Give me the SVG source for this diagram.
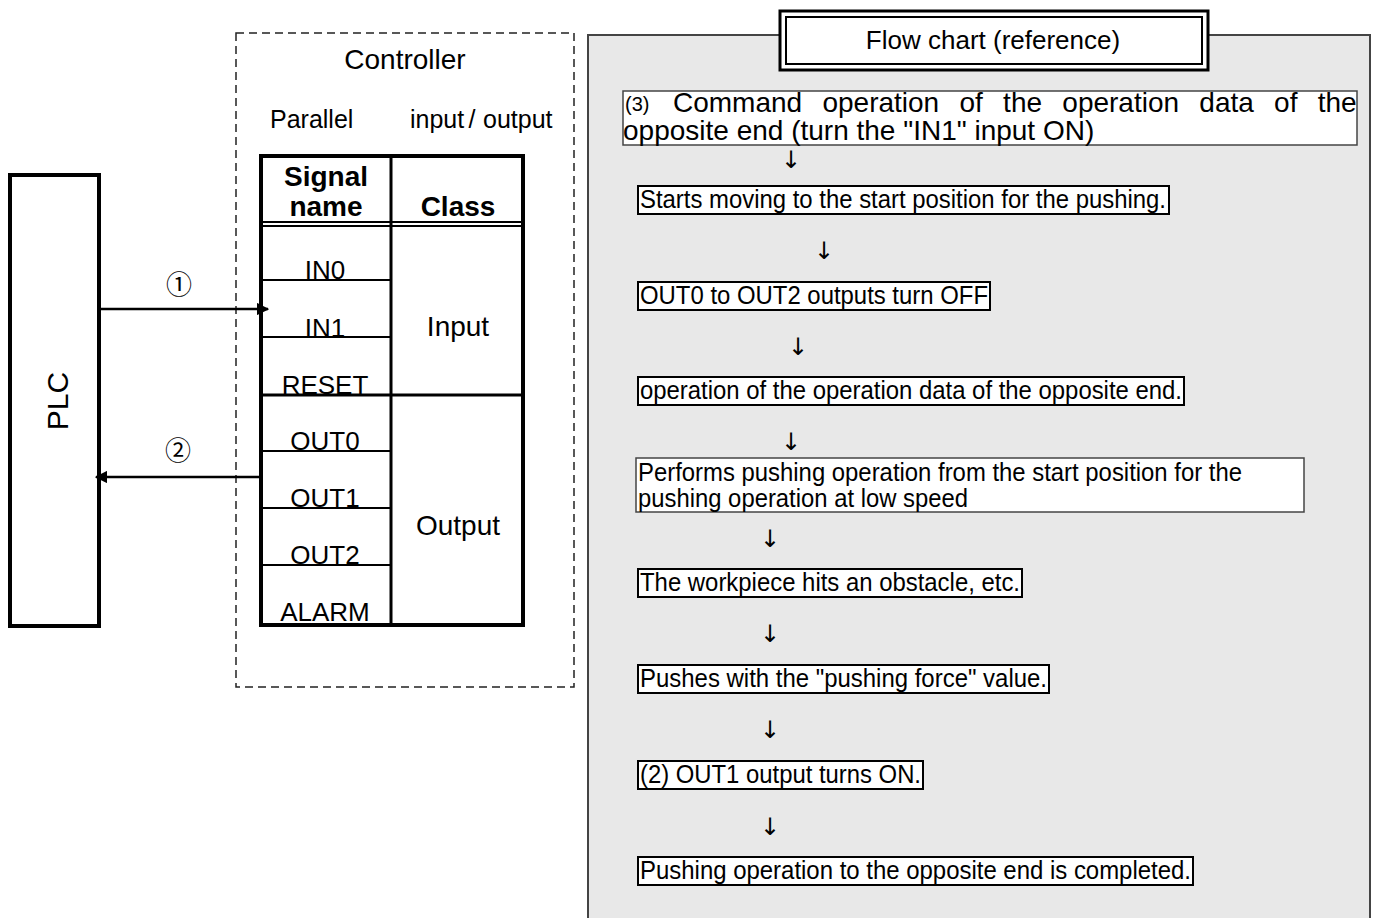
<svg xmlns="http://www.w3.org/2000/svg" width="1373" height="918" viewBox="0 0 1373 918">
<defs>
<style>
text{font-family:"Liberation Sans","Noto Sans CJK JP",sans-serif;fill:#000}
.t24{font-size:24px}
.t26{font-size:26px}
.t28{font-size:28px}
.c{text-anchor:middle}
.b{font-weight:bold}
.box{fill:#fff;stroke:#000;stroke-width:2}
.boxg{fill:#fff;stroke:#444;stroke-width:1.5}
.thin{stroke:#000;stroke-width:2;fill:none}
.arr{font-family:"DejaVu Sans",sans-serif;font-size:24px;text-anchor:middle;fill:#000}
.circ{font-family:"Noto Sans CJK JP",sans-serif;font-size:26px;text-anchor:middle}
</style>
<marker id="ah" viewBox="0 0 10 10" refX="9" refY="5" markerWidth="5" markerHeight="5" orient="auto" markerUnits="strokeWidth">
<path d="M0,0 L10,5 L0,10 z" fill="#000"/>
</marker>
</defs>
<rect width="1373" height="918" fill="#fff"/>

<g id="plc">
<rect x="10" y="175" width="89" height="451" fill="#fff" stroke="#000" stroke-width="4"/>
<text class="c" font-size="30" transform="translate(68,401) rotate(-90)">PLC</text>
</g>

<g id="controller">
<rect x="236" y="33" width="338" height="654" fill="none" stroke="#222" stroke-width="1.5" stroke-dasharray="8,5"/>
<text class="t28 c" x="405" y="69">Controller</text>
<text font-size="25" x="270" y="128">Parallel</text>
<text font-size="25" x="410" y="128">input</text>
<text font-size="25" x="472" y="128" text-anchor="middle">/</text>
<text font-size="25" x="483" y="128">output</text>
</g>

<g id="table">
<rect x="261" y="156" width="262" height="469" fill="#fff" stroke="#000" stroke-width="4"/>
<line x1="391" y1="156" x2="391" y2="625" stroke="#000" stroke-width="3"/>
<line x1="261" y1="222" x2="523" y2="222" stroke="#000" stroke-width="2"/>
<line x1="261" y1="226" x2="523" y2="226" stroke="#000" stroke-width="2"/>
<line x1="261" y1="280" x2="391" y2="280" class="thin"/>
<line x1="261" y1="337" x2="391" y2="337" class="thin"/>
<line x1="261" y1="395" x2="523" y2="395" stroke="#000" stroke-width="3"/>
<line x1="261" y1="451" x2="391" y2="451" class="thin"/>
<line x1="261" y1="508" x2="391" y2="508" class="thin"/>
<line x1="261" y1="565" x2="391" y2="565" class="thin"/>
<text class="t28 c b" x="326" y="186">Signal</text>
<text class="t28 c b" x="326" y="216">name</text>
<text class="t28 c b" x="458" y="216">Class</text>
<text class="t26 c" x="325" y="279">IN0</text>
<text class="t26 c" x="325" y="337">IN1</text>
<text class="t26 c" x="325" y="394">RESET</text>
<text class="t26 c" x="325" y="450">OUT0</text>
<text class="t26 c" x="325" y="507">OUT1</text>
<text class="t26 c" x="325" y="564">OUT2</text>
<text class="t26 c" x="325" y="621">ALARM</text>
<text class="t28 c" x="458" y="336">Input</text>
<text class="t28 c" x="458" y="535">Output</text>
</g>

<g id="connectors">
<line x1="99" y1="309" x2="268" y2="309" stroke="#000" stroke-width="2.5" marker-end="url(#ah)"/>
<text class="circ" x="179" y="294">①</text>
<line x1="263" y1="477" x2="96" y2="477" stroke="#000" stroke-width="2.5" marker-end="url(#ah)"/>
<text class="circ" x="178" y="460">②</text>
</g>

<g id="flowpanel">
<rect x="588" y="35" width="782" height="900" fill="#e8e8e8" stroke="#444" stroke-width="2"/>
</g>

<g id="title">
<rect x="780" y="11" width="428" height="59" fill="#fff" stroke="#000" stroke-width="3"/>
<rect x="786" y="17" width="416" height="47" fill="#fff" stroke="#000" stroke-width="2"/>
<text class="c" font-size="26" x="993" y="49">Flow chart (reference)</text>
</g>

<g id="step1">
<rect x="623" y="91" width="734" height="54" class="boxg"/>
<text font-size="20" x="625" y="111">(3)</text>
<text class="t28" x="673" y="112" word-spacing="12.5">Command operation of the operation data of the</text>
<text class="t28" x="623" y="140">opposite end (turn the "IN1" input ON)</text>
</g>
<text class="arr" x="791" y="168" font-size="22">↓</text>

<g id="step2">
<rect x="638" y="186" width="531" height="28" class="box"/>
<text font-size="25" x="640" y="208" textLength="526" lengthAdjust="spacingAndGlyphs">Starts moving to the start position for the pushing.</text>
</g>
<text class="arr" x="824" y="259">↓</text>

<g id="step3">
<rect x="638" y="282" width="352" height="28" class="box"/>
<text font-size="25" x="640" y="304" textLength="348" lengthAdjust="spacingAndGlyphs">OUT0 to OUT2 outputs turn OFF</text>
</g>
<text class="arr" x="798" y="355">↓</text>

<g id="step4">
<rect x="638" y="377" width="546" height="28" class="box"/>
<text font-size="25" x="640" y="399" textLength="542" lengthAdjust="spacingAndGlyphs">operation of the operation data of the opposite end.</text>
</g>
<text class="arr" x="791" y="450">↓</text>

<g id="step5">
<rect x="636" y="458" width="668" height="54" class="boxg"/>
<text font-size="25" x="638" y="481" textLength="604" lengthAdjust="spacingAndGlyphs">Performs pushing operation from the start position for the</text>
<text font-size="25" x="638" y="507" textLength="330" lengthAdjust="spacingAndGlyphs">pushing operation at low speed</text>
</g>
<text class="arr" x="770" y="547">↓</text>

<g id="step6">
<rect x="638" y="569" width="384" height="28" class="box"/>
<text font-size="25" x="640" y="591" textLength="380" lengthAdjust="spacingAndGlyphs">The workpiece hits an obstacle, etc.</text>
</g>
<text class="arr" x="770" y="642">↓</text>

<g id="step7">
<rect x="638" y="665" width="411" height="28" class="box"/>
<text font-size="25" x="640" y="687" textLength="407" lengthAdjust="spacingAndGlyphs">Pushes with the "pushing force" value.</text>
</g>
<text class="arr" x="770" y="738">↓</text>

<g id="step8">
<rect x="638" y="761" width="285" height="28" class="box"/>
<text font-size="25" x="640" y="783" textLength="281" lengthAdjust="spacingAndGlyphs">(2) OUT1 output turns ON.</text>
</g>
<text class="arr" x="770" y="835">↓</text>

<g id="step9">
<rect x="638" y="857" width="555" height="28" class="box"/>
<text font-size="25" x="640" y="879" textLength="551" lengthAdjust="spacingAndGlyphs">Pushing operation to the opposite end is completed.</text>
</g>
</svg>
